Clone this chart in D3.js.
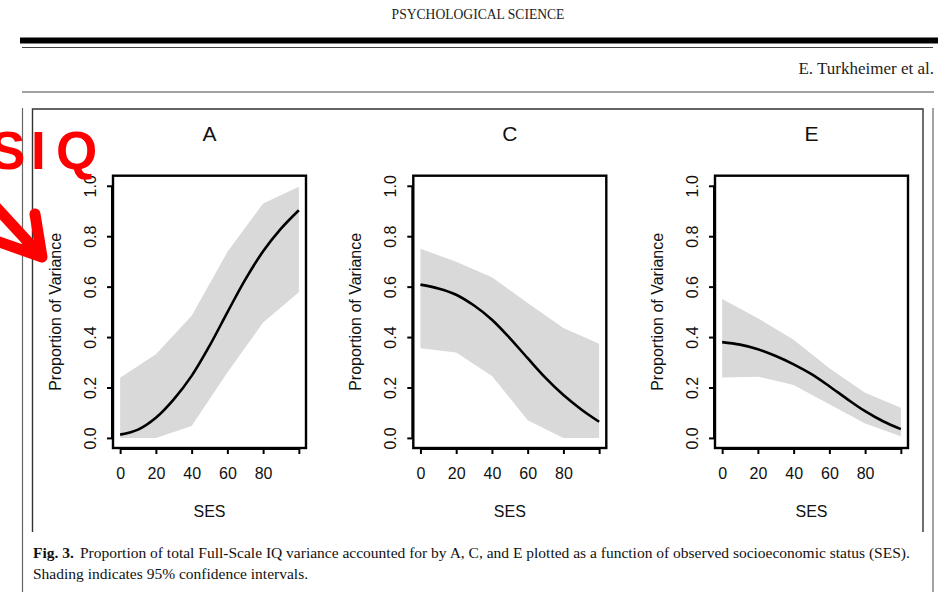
<!DOCTYPE html>
<html><head><meta charset="utf-8">
<script src="https://cdn.jsdelivr.net/npm/d3@7"></script>
<style>
html,body{margin:0;padding:0;background:#fff;}
svg{display:block;}
</style></head>
<body>
<svg id="c" width="938" height="592"></svg>
<script>
// ---------- data ----------
const panels = ["A", "C", "E"];
const ribbonX = [0, 20, 40, 60, 80, 100];
const lineX = [0, 10, 20, 30, 40, 50, 60, 70, 80, 90, 100];

const A_upper = [0.239, 0.332, 0.485, 0.737, 0.930, 0.996];
const A_lower = [0.000, 0.000, 0.047, 0.259, 0.458, 0.578];
const A_fit   = [0.013, 0.033, 0.080, 0.153, 0.246, 0.365, 0.498, 0.628, 0.740, 0.830, 0.903];

const C_upper = [0.750, 0.699, 0.637, 0.535, 0.436, 0.373];
const C_lower = [0.356, 0.339, 0.246, 0.070, 0.000, 0.000];
const C_fit   = [0.608, 0.593, 0.568, 0.525, 0.469, 0.396, 0.316, 0.238, 0.170, 0.113, 0.064];

const E_upper = [0.551, 0.475, 0.389, 0.276, 0.179, 0.120];
const E_lower = [0.240, 0.243, 0.210, 0.134, 0.057, 0.007];
const E_fit   = [0.380, 0.370, 0.352, 0.325, 0.292, 0.253, 0.205, 0.154, 0.106, 0.066, 0.035];

const xTicks = [0, 20, 40, 60, 80, 100];
const xTickLabels = ["0", "20", "40", "60", "80", ""];
const yTicks = [0, 0.2, 0.4, 0.6, 0.8, 1.0];
const yTickLabels = ["0.0", "0.2", "0.4", "0.6", "0.8", "1.0"];
const xLabel = "SES";
const yLabel = "Proportion of Variance";

const headerText = "PSYCHOLOGICAL SCIENCE";
const authorText = "E. Turkheimer et al.";
const captionBold = "Fig. 3.";
const captionLine1 = "Proportion of total Full-Scale IQ variance accounted for by A, C, and E plotted as a function of observed socioeconomic status (SES).";
const captionLine2 = "Shading indicates 95% confidence intervals.";
const annotation = ["S", "I", "Q"];

const series = {
  A: {upper: A_upper, lower: A_lower, fit: A_fit},
  C: {upper: C_upper, lower: C_lower, fit: C_fit},
  E: {upper: E_upper, lower: E_lower, fit: E_fit}
};

// ---------- drawing ----------
const svg = d3.select("#c");
const serif = "'Liberation Serif','Times New Roman',serif";
const sans = "'Liberation Sans',Arial,Helvetica,sans-serif";
const lineCol = "#444";

// page header
svg.append("text").attr("x", 478).attr("y", 19).attr("text-anchor", "middle")
  .attr("font-family", serif).attr("font-size", 13.6).attr("fill", "#222").text(headerText);
svg.append("rect").attr("x", 20).attr("y", 37.5).attr("width", 918).attr("height", 6).attr("fill", "#000");
svg.append("line").attr("x1", 22).attr("x2", 933).attr("y1", 47.5).attr("y2", 47.5).attr("stroke", lineCol).attr("stroke-width", 1);
svg.append("text").attr("x", 934).attr("y", 74).attr("text-anchor", "end")
  .attr("font-family", serif).attr("font-size", 17).attr("fill", "#222").text(authorText);
svg.append("line").attr("x1", 22).attr("x2", 934).attr("y1", 92).attr("y2", 92).attr("stroke", lineCol).attr("stroke-width", 1);

// outer vertical rules
svg.append("line").attr("x1", 22.5).attr("x2", 22.5).attr("y1", 108).attr("y2", 592).attr("stroke", "#666").attr("stroke-width", 1.2);
svg.append("line").attr("x1", 933).attr("x2", 933).attr("y1", 108).attr("y2", 592).attr("stroke", "#666").attr("stroke-width", 1.2);
// inner figure frame (open at bottom)
svg.append("path").attr("d", "M32.5,532 L32.5,109 L923,109 L923,532")
  .attr("fill", "none").attr("stroke", "#333").attr("stroke-width", 1.4);

// panels
const boxLefts = [113, 413.3, 715];
const boxW = 193, boxTop = 175.7, boxBottom = 448;

panels.forEach((p, i) => {
  const d = series[p];
  const x = d3.scaleLinear().domain([-4, 104]).range([boxLefts[i], boxLefts[i] + boxW]);
  const y = d3.scaleLinear().domain([-0.04, 1.04]).range([boxBottom, boxTop]);
  const g = svg.append("g");

  const ribbon = ribbonX.map((v, k) => ({x: v, lo: d.lower[k], hi: d.upper[k]}));
  g.append("path").datum(ribbon)
    .attr("d", d3.area().x(r => x(r.x)).y0(r => y(r.lo)).y1(r => y(r.hi)))
    .attr("fill", "#d9d9d9");

  const fit = lineX.map((v, k) => ({x: v, y: d.fit[k]}));
  g.append("path").datum(fit)
    .attr("d", d3.line().x(r => x(r.x)).y(r => y(r.y)).curve(d3.curveCatmullRom))
    .attr("fill", "none").attr("stroke", "#000").attr("stroke-width", 2.6);

  // box
  g.append("rect").attr("x", x.range()[0]).attr("y", boxTop).attr("width", boxW).attr("height", boxBottom - boxTop)
    .attr("fill", "none").attr("stroke", "#000").attr("stroke-width", 2.4);

  // x axis
  const xa = g.append("g").attr("transform", `translate(0,${boxBottom + 1})`)
    .call(d3.axisBottom(x).tickValues(xTicks).tickSize(5).tickPadding(14)
      .tickFormat((t, k) => xTickLabels[k]));
  xa.select(".domain").attr("d", `M${x(0)},0H${x(100)}`).attr("stroke-width", 2);
  xa.selectAll(".tick line").attr("stroke-width", 2);
  xa.selectAll("text").attr("font-family", sans).attr("font-size", 16).attr("fill", "#111");

  // y axis
  const ya = g.append("g").attr("transform", `translate(${x.range()[0] - 1},0)`)
    .call(d3.axisLeft(y).tickValues(yTicks).tickSize(5).tickFormat((t, k) => yTickLabels[k]));
  ya.select(".domain").attr("d", `M0,${y(0)}V${y(1)}`).attr("stroke-width", 2);
  ya.selectAll(".tick line").attr("stroke-width", 2);
  ya.selectAll("text").attr("font-family", sans).attr("font-size", 16).attr("fill", "#111")
    .attr("transform", "rotate(-90)").attr("x", 0).attr("y", -22).attr("dy", "0.35em")
    .attr("text-anchor", "middle");

  // labels
  const cx = x.range()[0] + boxW / 2;
  g.append("text").attr("x", cx).attr("y", 517).attr("text-anchor", "middle")
    .attr("font-family", sans).attr("font-size", 16).attr("fill", "#111").text(xLabel);
  g.append("text").attr("transform", `translate(${x.range()[0] - 58},${(y(0) + y(1)) / 2}) rotate(-90)`)
    .attr("text-anchor", "middle").attr("dy", "0.35em")
    .attr("font-family", sans).attr("font-size", 16).attr("fill", "#111").text(yLabel);
  g.append("text").attr("x", cx).attr("y", 140.5).attr("text-anchor", "middle")
    .attr("font-family", sans).attr("font-size", 21).attr("fill", "#111").text(p);
});

// caption
const cap = svg.append("text").attr("x", 33).attr("y", 558).attr("font-family", serif).attr("font-size", 15.5).attr("fill", "#111");
cap.append("tspan").attr("font-weight", "bold").text(captionBold);
cap.append("tspan").attr("dx", 6).text(captionLine1);
svg.append("text").attr("x", 33).attr("y", 579).attr("font-family", serif).attr("font-size", 15.5).attr("fill", "#111").text(captionLine2);

// red annotation
const ann = svg.append("text").attr("y", 168.5).attr("font-family", sans).attr("font-weight", "bold")
  .attr("font-size", 53).attr("fill", "#ff0000");
const annX = [-10, 31, 56];
annotation.forEach((ch, k) => ann.append("tspan").attr("x", annX[k]).text(ch));
svg.append("path")
  .attr("d", "M-40,168 L42,257 M35,214 L42,257 L-12,238")
  .attr("fill", "none").attr("stroke", "#ff0000").attr("stroke-width", 11)
  .attr("stroke-linecap", "round").attr("stroke-linejoin", "round");
</script>
</body></html>
